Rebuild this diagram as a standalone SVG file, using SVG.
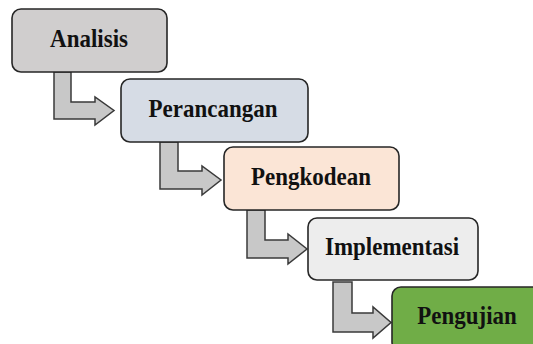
<svg xmlns="http://www.w3.org/2000/svg" width="533" height="344" viewBox="0 0 533 344">
<style>
.box{stroke:#262626;stroke-width:1.6}
.arr{fill:#c8c8c8;stroke:#3a3a3a;stroke-width:1.5;stroke-linejoin:miter}
.t{font-family:"Liberation Serif","Times New Roman",serif;font-weight:bold;font-size:23px;fill:#111;text-anchor:middle}
</style>
<rect width="533" height="344" fill="#fff"/>
<g id="connectors">
<polygon class="arr" points="54,72 71,72 71,102 95,102 95,97 114,110.5 95,125 95,119 54,119"/>
<polygon class="arr" points="160,142 178,142 178,171 202,171 202,166 221,180 202,195 202,189 160,189"/>
<polygon class="arr" points="247,210 265,210 265,240 288,240 288,234 307,249 288,264 288,258 247,258"/>
<polygon class="arr" points="333,282 352,282 352,313 373,313 373,307 391,322.5 373,338 373,332 333,332"/>
</g>
<g id="analisis">
<rect class="box" x="12" y="9" width="155" height="63" rx="9" fill="#d0cece"/>
<text class="t" transform="translate(89,46.5) scale(1,1.12)">Analisis</text>
</g>
<g id="perancangan">
<rect class="box" x="121" y="79" width="187" height="63" rx="9" fill="#d6dce5"/>
<text class="t" transform="translate(213,117) scale(1,1.12)">Perancangan</text>
</g>
<g id="pengkodean">
<rect class="box" x="224" y="147" width="175" height="63" rx="9" fill="#fbe5d6"/>
<text class="t" transform="translate(311,185) scale(1,1.12)">Pengkodean</text>
</g>
<g id="implementasi">
<rect class="box" x="308" y="218" width="170" height="62" rx="9" fill="#ededed"/>
<text class="t" transform="translate(392,255) scale(1,1.12)">Implementasi</text>
</g>
<g id="pengujian">
<rect class="box" x="392" y="287" width="152" height="64" rx="9" fill="#70ad47"/>
<text class="t" transform="translate(467,324) scale(1,1.12)">Pengujian</text>
</g>
</svg>
